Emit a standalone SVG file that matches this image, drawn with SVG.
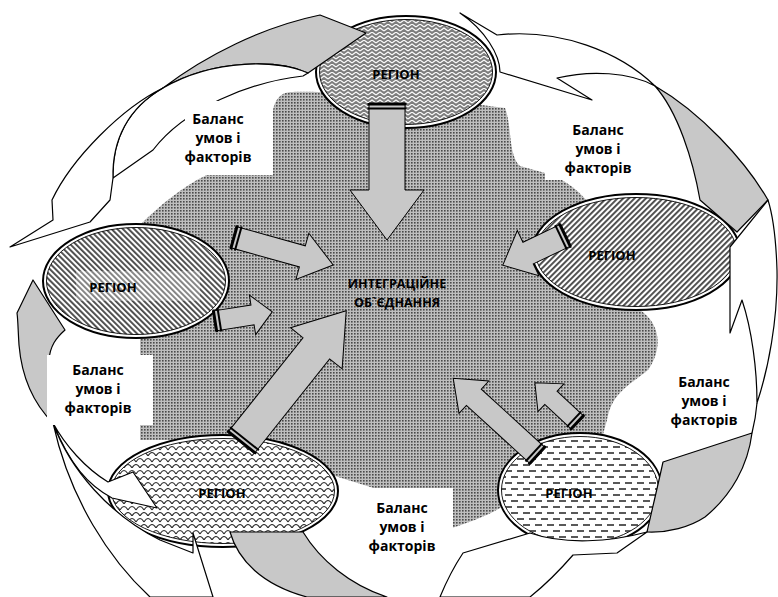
<svg xmlns="http://www.w3.org/2000/svg" width="778" height="597" viewBox="0 0 778 597">
<defs>
<pattern id="pDots" width="3" height="3" patternUnits="userSpaceOnUse"><rect width="3" height="3" fill="#bebebe"/><rect width="1.6" height="1.6" fill="#4a4a4a"/></pattern>
<pattern id="pChev" width="8" height="8" patternUnits="userSpaceOnUse"><rect width="8" height="8" fill="#7e7e7e"/><path d="M0,3 L4,0 L8,3 M0,7 L4,4 L8,7" fill="none" stroke="#fff" stroke-width="1.1"/></pattern>
<pattern id="pHatchA" width="4" height="4" patternUnits="userSpaceOnUse" patternTransform="rotate(45)"><rect width="4" height="4" fill="#fff"/><rect width="1.9" height="4" fill="#4a4a4a"/></pattern>
<pattern id="pHatchB" width="4" height="4" patternUnits="userSpaceOnUse" patternTransform="rotate(-45)"><rect width="4" height="4" fill="#fff"/><rect width="1.9" height="4" fill="#4a4a4a"/></pattern>
<pattern id="pScale" width="8" height="12" patternUnits="userSpaceOnUse"><rect width="8" height="12" fill="#fff"/><path d="M0,6 Q4,-1 8,6 M-4,12 Q0,5 4,12 M4,12 Q8,5 12,12" fill="none" stroke="#2a2a2a" stroke-width="1.1"/></pattern>
<pattern id="pDash" width="12" height="12" patternUnits="userSpaceOnUse"><rect width="12" height="12" fill="#fff"/><path d="M1,3 H8 M7,9 H12 M0,9 H2" stroke="#222" stroke-width="1.5"/></pattern>
</defs>
<style>
.w{fill:#fff;stroke:#000;stroke-width:1.2;stroke-linejoin:round}
.g{fill:#c8c8c8;stroke:#000;stroke-width:1.2;stroke-linejoin:round}
.ln{fill:none;stroke:#000;stroke-width:1.2}
.arr{fill:#c8c8c8;stroke:#000;stroke-width:1}
.band{fill:#000}
.box{fill:#fff}
.t{font-family:"Open Sans","Liberation Sans",sans-serif;font-weight:bold;fill:#000;text-anchor:middle}
.bal{font-size:14px}
.reg{font-size:13px}
.cen{font-size:12.5px}
.eo{fill:#fff;stroke:#000;stroke-width:2}
.ei{stroke:#000;stroke-width:0.9}
</style>
<rect width="778" height="597" fill="#fff"/>
<g id="integration-area">
<path d="M290,92 C330,90 450,100 505,108 C512,125 508,155 520,166 L545,173 C560,178 575,185 590,205 L640,310 C662,325 662,350 648,370 C630,385 612,392 607,420 L600,445 L505,505 C490,515 470,522 452,528 L420,528 L380,490 L335,476 L300,460 L200,440 L140,440 L140,225 C160,205 185,185 205,176 L273,110 C275,100 280,93 290,92 Z" fill="url(#pDots)"/>
</g>
<g id="region-top">
<ellipse class="eo" cx="406" cy="72" rx="90" ry="56"/>
<ellipse class="ei" cx="406" cy="72" rx="86.5" ry="52.5" fill="url(#pChev)"/>
<text class="t reg" x="396" y="79">РЕГІОН</text>
</g>
<g id="region-right">
<ellipse class="eo" cx="636" cy="252" rx="104" ry="58"/>
<ellipse class="ei" cx="636" cy="252" rx="100.5" ry="54.5" fill="url(#pHatchA)"/>
<text class="t reg" x="612" y="260">РЕГІОН</text>
</g>
<g id="region-left">
<ellipse class="eo" cx="136" cy="281" rx="93" ry="57"/>
<ellipse class="ei" cx="136" cy="281" rx="89.5" ry="53.5" fill="url(#pHatchB)"/>
<rect x="76" y="271" width="124" height="30" fill="#fff" opacity="0.3"/>
<text class="t reg" x="113" y="292">РЕГІОН</text>
</g>
<g id="region-bottom-left">
<ellipse class="eo" cx="223" cy="491" rx="115" ry="56"/>
<ellipse class="ei" cx="223" cy="491" rx="111.5" ry="52.5" fill="url(#pScale)"/>
<text class="t reg" x="222" y="498">РЕГІОН</text>
</g>
<g id="region-bottom-right">
<ellipse class="eo" cx="580" cy="490" rx="82" ry="57"/>
<ellipse class="ei" cx="580" cy="490" rx="78.5" ry="53.5" fill="url(#pDash)"/>
<text class="t reg" x="569" y="498">РЕГІОН</text>
</g>
<g id="cycle-arrows">
<path class="g" d="M163,88 C205,56 262,27 320,15 L366,33 L308,73 C280,60 215,58 163,88 Z"/>
<path class="w" d="M163,88 C215,58 280,60 308,73 L303,76 C250,82 185,108 153,150 L113,178 C112,140 128,108 163,88 Z"/>
<path class="w" d="M163,88 C122,108 72,158 52,200 L53,220 L10,247 L90,222 L110,200 L113,178 C112,140 128,108 163,88 Z"/>
<path class="w" d="M460,13 L497,35 C560,28 620,52 655,86 C630,72 590,70 557,78 L592,100 L500,72 C500,55 485,30 460,13 Z"/>
<path class="g" d="M655,86 C700,112 745,160 768,200 L737,232 L700,200 C693,160 678,112 655,86 Z"/>
<path class="w" d="M768,200 L730,247 L730,333 L742,300 C752,330 757,370 757,403 C768,370 778,320 777,270 C776,238 773,216 768,200 Z"/>
<path class="ln" d="M757,403 C756,415 754,425 752,433"/>
<path class="g" d="M663,462 L752,433 C748,465 732,495 705,517 C690,527 668,533 647,532 C652,510 658,485 663,462 Z"/>
<path class="w" d="M647,532 L617,553 L573,555 C560,570 545,585 530,597 L440,597 C447,580 455,565 463,553 L530,533 C565,545 610,542 647,532 Z"/>
<path class="g" d="M230,532 C238,560 262,585 307,597 L387,597 C350,585 320,560 303,532 Z"/>
<path class="g" d="M33,280 L65,330 C56,338 50,346 49,360 L49,423 L53,423 C35,405 22,380 19,345 C18,330 18,320 17,313 Z"/>
<path class="w" d="M53,423 C65,445 85,468 108,482 L133,472 L157,508 L112,498 C88,485 70,465 53,423 Z"/>
<path class="w" d="M53,423 C70,470 110,515 160,540 L193,553 L193,533 L213,597 L150,597 C110,560 70,500 53,423 Z"/>
</g>
<g id="balance-boxes">
<rect class="box" x="185" y="101" width="88" height="74"/>
<rect class="box" x="545" y="113" width="97" height="67"/>
<rect class="box" x="47" y="355" width="106" height="70"/>
<rect class="box" x="668" y="365" width="74" height="67"/>
<rect class="box" x="367" y="488" width="86" height="70"/>
</g>
<g id="connectors">
<g transform="translate(387,103) rotate(90)"><polygon class="arr" points="0,-18 87,-18 87,-37 137,0 87,37 87,18 0,18"/><rect class="band" x="0" y="-19.5" width="2.5" height="39"/><rect class="band" x="4.5" y="-19.5" width="2" height="39"/></g>
<g transform="translate(233,237) rotate(15.6)"><polygon class="arr" points="0,-11 72,-11 72,-24 104,0 72,24 72,11 0,11"/><rect class="band" x="0" y="-12.5" width="2.5" height="25"/><rect class="band" x="4.5" y="-12.5" width="2" height="25"/></g>
<g transform="translate(214,321) rotate(-9)"><polygon class="arr" points="0,-10 39,-10 39,-20 59,0 39,20 39,10 0,10"/><rect class="band" x="0" y="-11.5" width="2.5" height="23"/><rect class="band" x="4.5" y="-11.5" width="2" height="23"/></g>
<g transform="translate(241,443) rotate(-51.5)"><polygon class="arr" points="0,-17 121,-17 121,-33 169,0 121,33 121,17 0,17"/><rect class="band" x="0" y="-18.5" width="2.5" height="37"/><rect class="band" x="4.5" y="-18.5" width="2" height="37"/></g>
<g transform="translate(566,235) rotate(154.5)"><polygon class="arr" points="0,-12 42,-12 42,-25 70,0 42,25 42,12 0,12"/><rect class="band" x="0" y="-13.5" width="2.5" height="27"/><rect class="band" x="4.5" y="-13.5" width="2" height="27"/></g>
<g transform="translate(538,456) rotate(-137.5)"><polygon class="arr" points="0,-11 87,-11 87,-22 115,0 87,22 87,11 0,11"/><rect class="band" x="0" y="-12.5" width="2.5" height="25"/><rect class="band" x="4.5" y="-12.5" width="2" height="25"/></g>
<g transform="translate(578,423) rotate(-137)"><polygon class="arr" points="0,-9 37,-9 37,-19 59,0 37,19 37,9 0,9"/><rect class="band" x="0" y="-10.5" width="2.5" height="21"/><rect class="band" x="4.5" y="-10.5" width="2" height="21"/></g>
</g>
<g id="labels">
<text class="t cen" x="397" y="288">ИНТЕГРАЦІЙНЕ</text>
<text class="t cen" x="397" y="307">ОБ`ЄДНАННЯ</text>
<text class="t bal" x="218" y="124">Баланс</text><text class="t bal" x="218" y="143">умов і</text><text class="t bal" x="218" y="162">факторів</text>
<text class="t bal" x="598" y="135">Баланс</text><text class="t bal" x="598" y="154">умов і</text><text class="t bal" x="598" y="173">факторів</text>
<text class="t bal" x="98" y="375">Баланс</text><text class="t bal" x="98" y="394">умов і</text><text class="t bal" x="98" y="413">факторів</text>
<text class="t bal" x="704" y="387">Баланс</text><text class="t bal" x="704" y="406">умов і</text><text class="t bal" x="704" y="425">факторів</text>
<text class="t bal" x="402" y="513">Баланс</text><text class="t bal" x="402" y="532">умов і</text><text class="t bal" x="402" y="551">факторів</text>
</g>
</svg>
